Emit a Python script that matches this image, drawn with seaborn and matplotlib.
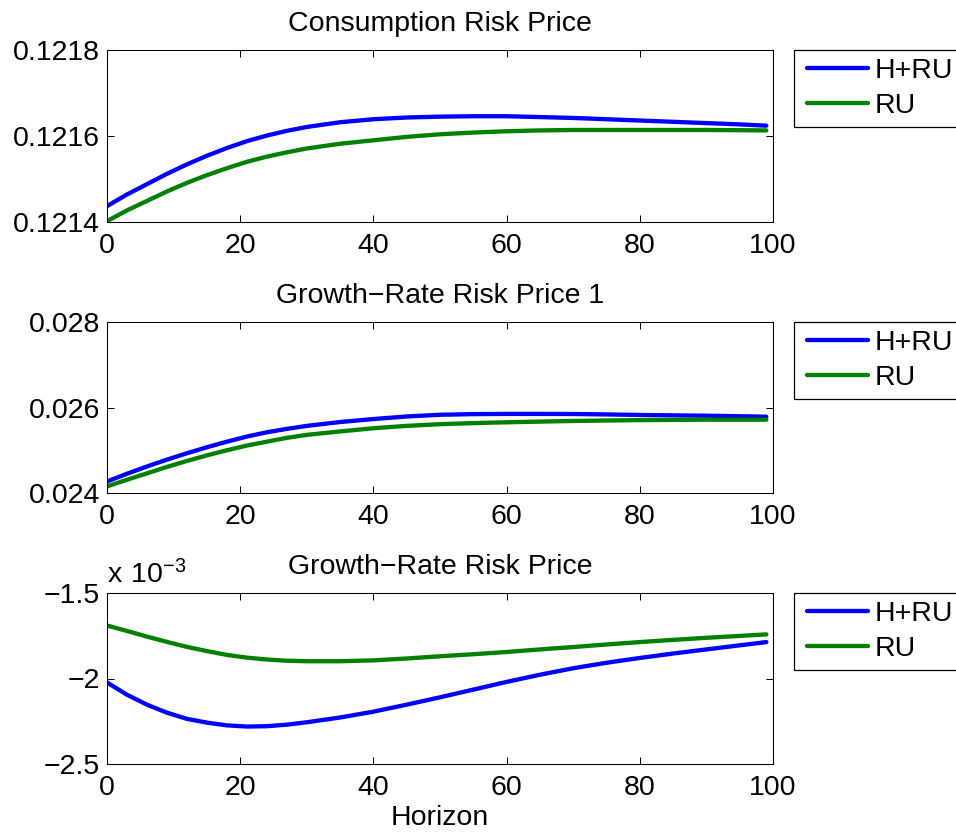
import numpy as np
import pandas as pd
import matplotlib
matplotlib.use("Agg")
import matplotlib.pyplot as plt
import seaborn as sns
from matplotlib.lines import Line2D
from matplotlib.patches import Rectangle
from matplotlib.legend_handler import HandlerLine2D

# Horizons at which the risk prices are recorded
horizon = [0, 3, 6, 9, 12, 15, 18, 21, 24, 27, 30, 35, 40, 45, 50,
           55, 60, 65, 70, 75, 80, 85, 90, 95, 99]

# Consumption risk price
cons_hru = [0.121437, 0.121464, 0.121488, 0.121512, 0.121534, 0.121554, 0.121572,
            0.121588, 0.121601, 0.121612, 0.121621, 0.121632, 0.121639, 0.121643,
            0.121645, 0.121646, 0.121646, 0.121644, 0.121642, 0.121639, 0.121636,
            0.121633, 0.121630, 0.121627, 0.121624]
cons_ru = [0.121402, 0.121427, 0.121449, 0.121471, 0.121491, 0.121509, 0.121525,
           0.121540, 0.121552, 0.121562, 0.121571, 0.121582, 0.121590, 0.121598,
           0.121604, 0.121608, 0.121611, 0.121613, 0.121614, 0.121614, 0.121614,
           0.121614, 0.121614, 0.1216135, 0.121613]

# Growth-rate risk price 1
g1_hru = [0.024270, 0.024450, 0.024620, 0.024780, 0.024930, 0.025070, 0.025200,
          0.025320, 0.025420, 0.025500, 0.025570, 0.025660, 0.025730, 0.025790,
          0.025830, 0.025845, 0.025850, 0.025850, 0.025848, 0.025838, 0.025825,
          0.025816, 0.025808, 0.025796, 0.025785]
g1_ru = [0.024154, 0.024310, 0.024460, 0.024610, 0.024750, 0.024880, 0.025000,
         0.025110, 0.025200, 0.025290, 0.025360, 0.025440, 0.025515, 0.025570,
         0.025610, 0.025635, 0.025654, 0.025670, 0.025685, 0.025696, 0.025705,
         0.025710, 0.025715, 0.025715, 0.025715]

# Growth-rate risk price, in units of 1e-3
g_hru_e3 = [-2.023, -2.095, -2.153, -2.200, -2.236, -2.258, -2.274, -2.281, -2.279,
            -2.270, -2.256, -2.228, -2.194, -2.153, -2.110, -2.065, -2.020, -1.978,
            -1.940, -1.908, -1.880, -1.854, -1.830, -1.806, -1.787]
g_ru_e3 = [-1.690, -1.722, -1.755, -1.786, -1.815, -1.840, -1.862, -1.878, -1.889,
           -1.896, -1.899, -1.899, -1.894, -1.883, -1.870, -1.858, -1.845, -1.830,
           -1.816, -1.801, -1.787, -1.774, -1.762, -1.751, -1.742]

series_labels = ["H+RU", "RU"]
series_colors = ["#0000ff", "#008000"]

titles = ["Consumption Risk Price",
          "Growth\u2212Rate Risk Price 1",
          "Growth\u2212Rate Risk Price"]

x_ticks = [0, 20, 40, 60, 80, 100]
y_ticks = [[0.1214, 0.1216, 0.1218], [0.024, 0.026, 0.028], [-2.5, -2.0, -1.5]]
y_tick_labels = [["0.1214", "0.1216", "0.1218"],
                 ["0.024", "0.026", "0.028"],
                 ["\u22122.5", "\u22122", "\u22121.5"]]

panels = [(cons_hru, cons_ru), (g1_hru, g1_ru), (g_hru_e3, g_ru_e3)]

sns.set_style("ticks", {"xtick.direction": "in", "ytick.direction": "in"})
plt.rcParams["font.family"] = ["Liberation Sans", "DejaVu Sans"]
plt.rcParams["axes.unicode_minus"] = True
for key in ["text.color", "axes.labelcolor", "xtick.color", "ytick.color",
            "axes.edgecolor", "xtick.labelcolor", "ytick.labelcolor"]:
    plt.rcParams[key] = "black"

FS = 20.5
LW = 3.1

fig = plt.figure(figsize=(9.56, 8.36), dpi=100)
W, H = 956.0, 836.0
ax_left, ax_right = 107, 773
ax_tops = [50, 322, 593]
ax_bottoms = [222, 493, 764]
legend_left = 794
legends = []

for i, (hru, ru) in enumerate(panels):
    top, bot = ax_tops[i], ax_bottoms[i]
    ax = fig.add_axes([ax_left / W, 1 - bot / H, (ax_right - ax_left) / W, (bot - top) / H])
    df = pd.DataFrame({
        "Horizon": horizon * 2,
        "value": list(hru) + list(ru),
        "model": [series_labels[0]] * len(horizon) + [series_labels[1]] * len(horizon),
    })
    sns.lineplot(data=df, x="Horizon", y="value", hue="model",
                 palette=dict(zip(series_labels, series_colors)),
                 linewidth=LW, ax=ax, legend=False)

    ax.set_xlim(0, 100)
    ax.set_ylim(y_ticks[i][0], y_ticks[i][-1])
    ax.set_xticks(x_ticks)
    ax.set_xticklabels([str(t) for t in x_ticks])
    ax.set_yticks(y_ticks[i])
    ax.set_yticklabels(y_tick_labels[i])
    ax.tick_params(axis="both", which="both", direction="in", top=True, right=True,
                   length=5, width=0.75, labelsize=FS, color="black",
                   labelcolor="black")
    ax.tick_params(axis="x", pad=8)
    ax.tick_params(axis="y", pad=5)
    for sp in ax.spines.values():
        sp.set_visible(True)
        sp.set_linewidth(0.75)
        sp.set_color("black")
    ax.set_ylabel("")
    ax.set_title(titles[i], fontsize=FS, pad=14, color="black")
    if i == 2:
        ax.set_xlabel("Horizon", fontsize=FS, labelpad=3, color="black")
        ax.annotate(r"$\mathregular{x\ 10^{-3}}$", xy=(0, 1), xycoords="axes fraction",
                    xytext=(0, 7), textcoords="offset points",
                    ha="left", va="baseline", fontsize=FS, color="black")
    else:
        ax.set_xlabel("")

    handles = [Line2D([], [], color=c, linewidth=LW) for c in series_colors]
    leg = ax.legend(handles, series_labels, loc="upper left",
                    bbox_to_anchor=(legend_left / W, 1 - top / H),
                    bbox_transform=fig.transFigure, fontsize=FS,
                    frameon=False, borderpad=0.27, labelspacing=0.33,
                    handlelength=2.32, handletextpad=0.25, borderaxespad=0,
                    handler_map={Line2D: HandlerLine2D(xpad=0.2)})
    for t in leg.get_texts():
        t.set_color("black")
    legends.append(leg)

# Legend boxes run past the right edge of the figure
fig.canvas.draw()
for leg in legends:
    bb = leg.get_window_extent()
    fig.add_artist(Rectangle((bb.x0 / W, bb.y0 / H), 200 / W, bb.height / H,
                             transform=fig.transFigure, facecolor="none",
                             edgecolor="black", linewidth=0.9))

fig.savefig("out.png", dpi=100)
